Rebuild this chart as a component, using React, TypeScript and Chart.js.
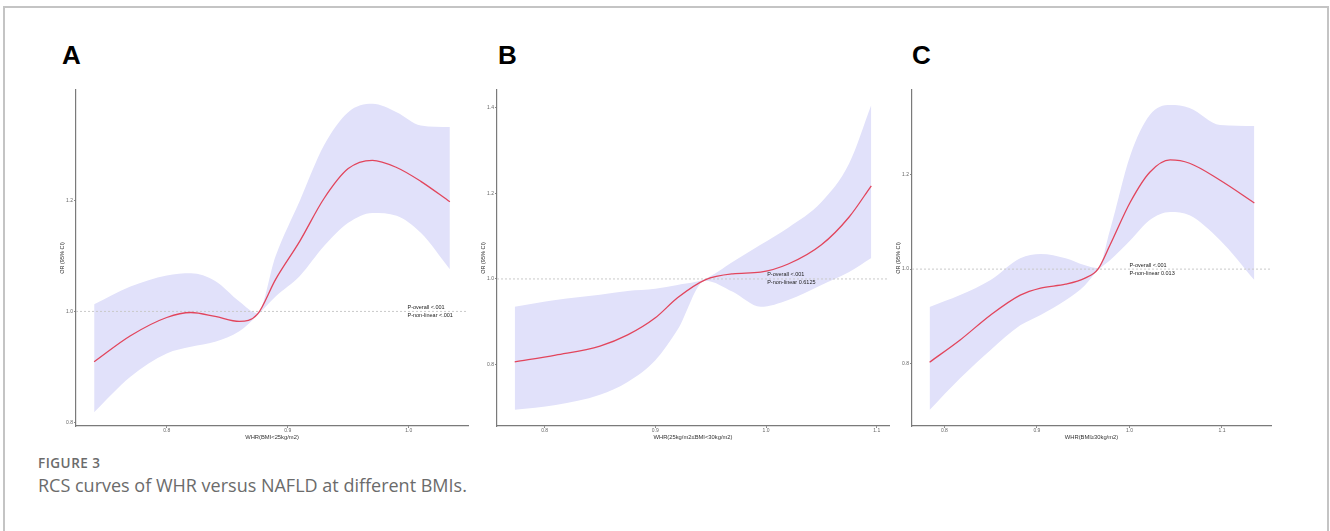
import React, { useEffect, useRef } from "react";
import { Chart, registerables } from "chart.js";
Chart.register(...registerables);

const FONT = "'Liberation Sans', Arial, sans-serif";

// Panel A: BMI < 25
const xA = [0.74, 0.77, 0.80, 0.82, 0.84, 0.86, 0.875, 0.89, 0.91, 0.93, 0.95, 0.97, 0.99, 1.01, 1.034];
const estA = [0.909, 0.956, 0.989, 0.998, 0.991, 0.982, 0.995, 1.058, 1.127, 1.204, 1.258, 1.273, 1.260, 1.235, 1.198];
const hiA = [1.013, 1.045, 1.065, 1.069, 1.055, 1.018, 0.997, 1.10, 1.20, 1.30, 1.36, 1.375, 1.36, 1.336, 1.333];
const loA = [0.818, 0.882, 0.924, 0.936, 0.945, 0.964, 0.993, 1.027, 1.064, 1.118, 1.16, 1.178, 1.173, 1.142, 1.076];
const xTicksA = [0.8, 0.9, 1.0];
const yTicksA = [0.8, 1.0, 1.2];
const annoA = ["P-overall <.001", "P-non-linear <.001"];

// Panel B: 25 <= BMI < 30
const xB = [0.773, 0.81, 0.85, 0.875, 0.90, 0.92, 0.945, 0.97, 0.995, 1.02, 1.05, 1.075, 1.095];
const estB = [0.806, 0.822, 0.843, 0.869, 0.909, 0.956, 0.998, 1.012, 1.016, 1.035, 1.08, 1.145, 1.218];
const hiB = [0.935, 0.951, 0.963, 0.972, 0.977, 0.986, 1.0, 1.04, 1.08, 1.12, 1.18, 1.27, 1.407];
const loB = [0.694, 0.705, 0.729, 0.759, 0.81, 0.881, 0.996, 0.970, 0.935, 0.951, 0.986, 1.016, 1.049];
const xTicksB = [0.8, 0.9, 1.0, 1.1];
const yTicksB = [0.8, 1.0, 1.2, 1.4];
const annoB = ["P-overall <.001", "P-non-linear 0.6125"];

// Panel C: BMI >= 30
const xC = [0.784, 0.817, 0.85, 0.882, 0.904, 0.931, 0.952, 0.966, 0.979, 1.001, 1.022, 1.044, 1.065, 1.098, 1.135];
const estC = [0.803, 0.850, 0.903, 0.945, 0.960, 0.968, 0.981, 1.0, 1.051, 1.142, 1.205, 1.231, 1.224, 1.188, 1.14];
const hiC = [0.92, 0.945, 0.977, 1.023, 1.032, 1.023, 1.008, 1.002, 1.083, 1.241, 1.326, 1.347, 1.341, 1.305, 1.303];
const loC = [0.702, 0.769, 0.829, 0.881, 0.903, 0.934, 0.966, 0.998, 1.019, 1.061, 1.104, 1.121, 1.114, 1.061, 0.977];
const xTicksC = [0.8, 0.9, 1.0, 1.1];
const yTicksC = [0.8, 1.0, 1.2];
const annoC = ["P-overall <.001", "P-non-linear 0.013"];

type PanelProps = {
  left: number; top: number; width: number; height: number;
  xs: number[]; est: number[]; hi: number[]; lo: number[];
  xTicks: number[]; yTicks: number[];
  xMin: number; xMax: number; yMin: number; yMax: number;
  xTitle: string; anno: string[]; annoX: number;
};

function Panel(p: PanelProps) {
  const ref = useRef<HTMLCanvasElement | null>(null);
  useEffect(() => {
    if (!ref.current) return;
    const pts = (ys: number[]) => p.xs.map((x, i) => ({ x, y: ys[i] }));
    const annoPlugin = {
      id: "anno",
      afterDatasetsDraw(chart: any) {
        const { ctx, scales } = chart;
        const px = scales.x.getPixelForValue(p.annoX);
        const py = scales.y.getPixelForValue(1.0);
        ctx.save();
        ctx.font = `5.5px ${FONT}`;
        ctx.fillStyle = "#222";
        ctx.textAlign = "left";
        ctx.textBaseline = "middle";
        ctx.fillText(p.anno[0], px, py - 4);
        ctx.fillText(p.anno[1], px, py + 4);
        ctx.restore();
      },
    };
    const chart = new Chart(ref.current, {
      type: "line",
      data: {
        datasets: [
          {
            data: pts(p.est), borderColor: "#e2455c", borderWidth: 1.3, pointRadius: 0,
            fill: false, cubicInterpolationMode: "monotone", order: 0,
          },
          {
            data: [{ x: p.xMin, y: 1 }, { x: p.xMax, y: 1 }], borderColor: "#c9c9c9",
            borderWidth: 1, borderDash: [2, 2], pointRadius: 0, fill: false, order: 1,
          },
          {
            data: pts(p.hi), borderWidth: 0, borderColor: "rgba(0,0,0,0)", pointRadius: 0,
            fill: "+1", backgroundColor: "#e1e1fa", cubicInterpolationMode: "monotone", order: 2,
          },
          {
            data: pts(p.lo), borderWidth: 0, borderColor: "rgba(0,0,0,0)", pointRadius: 0,
            fill: false, cubicInterpolationMode: "monotone", order: 3,
          },
        ],
      } as any,
      options: {
        animation: false,
        responsive: false,
        maintainAspectRatio: false,
        layout: { padding: { top: 6, right: 6, left: 0, bottom: 0 } },
        plugins: { legend: { display: false }, tooltip: { enabled: false } },
        scales: {
          x: {
            type: "linear", min: p.xMin, max: p.xMax,
            afterBuildTicks: (s: any) => { s.ticks = p.xTicks.map((v) => ({ value: v })); },
            afterFit: (s: any) => { s.height = 24; },
            ticks: {
              callback: (v: any) => Number(v).toFixed(1), padding: 0, maxRotation: 0,
              font: { size: 5, family: FONT }, color: "#666",
            },
            grid: { drawOnChartArea: false, tickLength: 2, color: "#888" },
            border: { display: true, color: "#7a7a7a", width: 1.2 },
            title: {
              display: true, text: p.xTitle, color: "#333",
              font: { size: 5.8, family: FONT, lineHeight: 1 }, padding: { top: 0, bottom: 9.5 },
            },
          },
          y: {
            type: "linear", min: p.yMin, max: p.yMax,
            afterBuildTicks: (s: any) => { s.ticks = p.yTicks.map((v) => ({ value: v })); },
            afterFit: (s: any) => { s.width = 32; },
            ticks: {
              callback: (v: any) => Number(v).toFixed(1), padding: 1,
              font: { size: 5, family: FONT }, color: "#666",
            },
            grid: { drawOnChartArea: false, tickLength: 2, color: "#888" },
            border: { display: true, color: "#7a7a7a", width: 1.2 },
            title: {
              display: true, text: "OR (95% CI)", color: "#333",
              font: { size: 5.5, family: FONT, lineHeight: 1 }, padding: { top: 16, bottom: 0 },
            },
          },
        },
      } as any,
      plugins: [annoPlugin],
    });
    return () => chart.destroy();
  }, []);
  return (
    <canvas
      ref={ref}
      width={p.width}
      height={p.height}
      style={{ position: "absolute", left: p.left, top: p.top, width: p.width, height: p.height }}
    />
  );
}

const letterStyle: React.CSSProperties = {
  position: "absolute", top: 42, fontFamily: FONT, fontWeight: 700, fontSize: 26, lineHeight: 1, color: "#000",
};

export default function App() {
  return (
    <div style={{ position: "absolute", left: 0, top: 0, width: 1330, height: 531, overflow: "hidden", background: "#fff" }}>
      <div style={{
        position: "absolute", left: 3, top: 6, width: 1322, height: 560,
        borderTop: "2px solid #c4c4c4", borderLeft: "2px solid #c4c4c4", borderRight: "2px solid #c4c4c4",
      }} />
      <div style={{ ...letterStyle, left: 62 }}>A</div>
      <div style={{ ...letterStyle, left: 498 }}>B</div>
      <div style={{ ...letterStyle, left: 912 }}>C</div>
      <Panel left={44} top={84} width={430} height={366} xs={xA} est={estA} hi={hiA} lo={loA}
        xTicks={xTicksA} yTicks={yTicksA} xMin={0.725} xMax={1.049} yMin={0.793} yMax={1.40}
        xTitle="WHR(BMI<25kg/m2)" anno={annoA} annoX={0.999} />
      <Panel left={465} top={84} width={430} height={366} xs={xB} est={estB} hi={hiB} lo={loB}
        xTicks={xTicksB} yTicks={yTicksB} xMin={0.757} xMax={1.111} yMin={0.656} yMax={1.442}
        xTitle="WHR(25kg/m2≤BMI<30kg/m2)" anno={annoB} annoX={1.001} />
      <Panel left={880} top={84} width={397} height={366} xs={xC} est={estC} hi={hiC} lo={loC}
        xTicks={xTicksC} yTicks={yTicksC} xMin={0.765} xMax={1.153} yMin={0.668} yMax={1.379}
        xTitle="WHR(BMI≥30kg/m2)" anno={annoC} annoX={1.0} />
      <div style={{
        position: "absolute", left: 38, top: 455, fontFamily: "'Open Sans', sans-serif", fontWeight: 600,
        fontSize: 13.5, letterSpacing: 0.5, color: "#6b6b6b", lineHeight: 1.2,
      }}>FIGURE 3</div>
      <div style={{
        position: "absolute", left: 38, top: 475, fontFamily: "'Open Sans', sans-serif", fontWeight: 400,
        fontSize: 18, color: "#6b6b6b", lineHeight: 1.2, whiteSpace: "nowrap",
      }}>RCS curves of WHR versus NAFLD at different BMIs.</div>
    </div>
  );
}
